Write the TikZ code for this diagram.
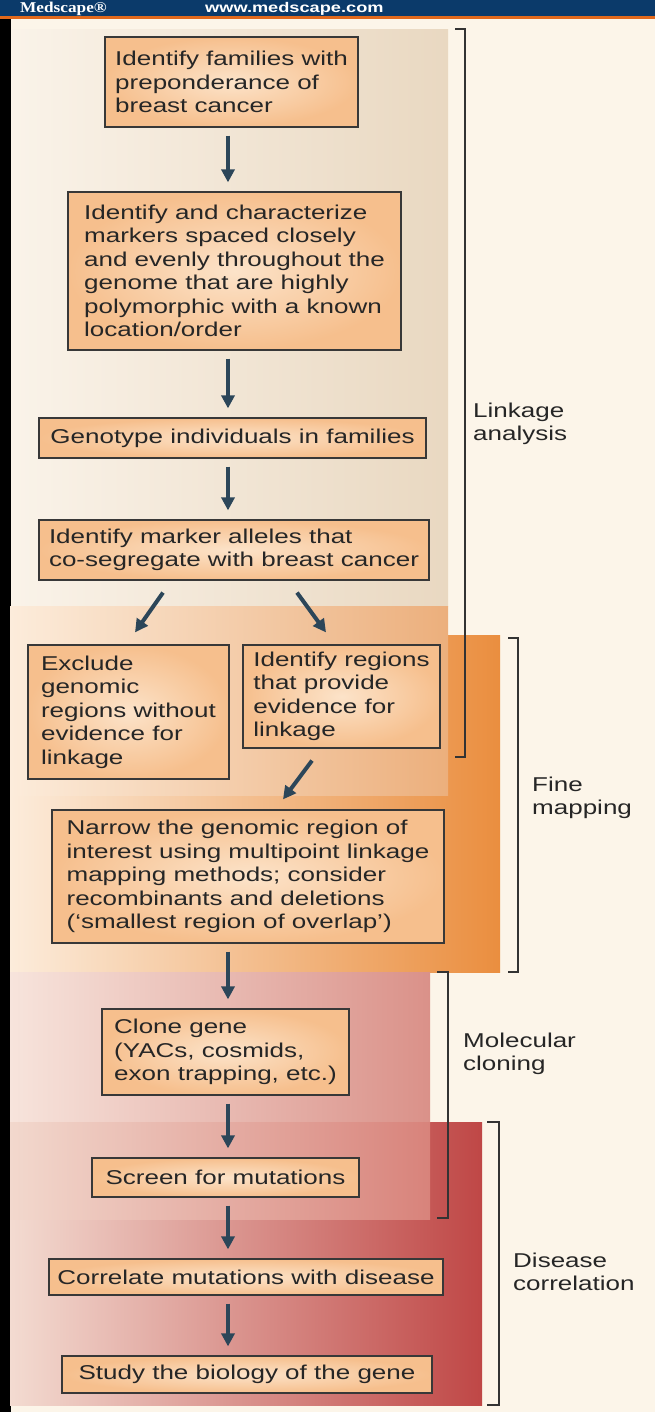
\documentclass[tikz,border=0pt]{standalone}
\usepackage{fontspec}
\setmainfont[FakeStretch=1.3]{Liberation Sans}
\newfontfamily\logofont[FakeStretch=1.15]{Liberation Serif}
\usetikzlibrary{arrows.meta,positioning,calc}
\definecolor{navy}{HTML}{0B3A6A}
\definecolor{hdline}{HTML}{E2691C}
\definecolor{paper}{HTML}{FCF5E9}
\definecolor{boxin}{HTML}{FCE3C9}
\definecolor{boxout}{HTML}{F6BF8D}
\definecolor{arrowc}{HTML}{2C4659}
\definecolor{lnkL}{HTML}{FAF3E9}
\definecolor{lnkR}{HTML}{E9D8C1}
\definecolor{finL}{HTML}{FCECDB}
\definecolor{finM}{HTML}{ECAF7C}
\definecolor{finR}{HTML}{EA8E3F}
\definecolor{molL}{HTML}{F7E4DC}
\definecolor{molR}{HTML}{DA9189}
\definecolor{ovlL}{HTML}{F2D8CD}
\definecolor{ovlR}{HTML}{D8837B}
\definecolor{disL}{HTML}{F3DBD1}
\definecolor{disR}{HTML}{BF4746}
\tikzset{box/.style={draw=black!78,line width=1.2pt,inner color=boxin,outer color=boxout,align=left,inner sep=2pt,font=\fontsize{20}{23.5}\selectfont,text=black!85},arrow/.style={-{Triangle[length=13pt,width=13pt]},line width=4pt,draw=arrowc,shorten <=8pt,shorten >=9pt},brk/.style={draw=black!80,line width=1.4pt},lab/.style={anchor=west,align=left,inner sep=0pt,font=\fontsize{20}{23.5}\selectfont,text=black!85}}

\begin{document}
\begin{tikzpicture}[x=1pt,y=-1pt]
\useasboundingbox (0,0) rectangle (655,1412);
\fill[paper] (0,0) rectangle (655,1412);
% header
\fill[navy] (0,0) rectangle (655,16);
\fill[hdline] (0,16) rectangle (655,19);
\fill[black] (0,19) rectangle (11,1412);
\begin{scope}
\clip (0,0) rectangle (655,16);
\node[anchor=base west,inner sep=0pt,text=white,font=\logofont\bfseries\fontsize{15}{15}\selectfont] (logo) at (20,13) {Medscape\textregistered};
\node[anchor=base west,inner sep=0pt,text=white,font=\bfseries\fontsize{14}{14}\selectfont] (url) at (205,13) {www.medscape.com};
\end{scope}
% panels
\fill[left color=lnkL,right color=lnkR] (12,30) rectangle (448,606);
\fill[left color=finL,right color=finR] (10,635) rectangle (500,972);
\fill[left color=finL,right color=finM] (10,606) rectangle (448,795);
\fill[left color=disL,right color=disR] (10,1122) rectangle (482,1405);
\fill[left color=molL,right color=molR] (10,972) rectangle (430,1122);
\fill[left color=ovlL,right color=ovlR] (10,1122) rectangle (430,1219);
% steps
\node[box,minimum width=253pt,minimum height=90pt] (fam) at (231.5,82) {Identify families with\\preponderance of\\breast cancer};
\node[box,minimum width=333pt,minimum height=158pt] (mark) at (234.5,271) {Identify and characterize\\markers spaced closely\\and evenly throughout the\\genome that are highly\\polymorphic with a known\\location/order};
\node[box,minimum width=387pt,minimum height=40pt] (geno) at (232.5,438) {Genotype individuals in families};
\node[box,minimum width=390pt,minimum height=60pt] (alle) at (234,550) {Identify marker alleles that\\co-segregate with breast cancer};
\node[box,minimum width=201pt,minimum height=134pt] (excl) at (128.5,712) {Exclude\\genomic\\regions without\\evidence for\\linkage};
\node[box,minimum width=197pt,minimum height=103pt] (regi) at (341.5,696.5) {Identify regions\\that provide\\evidence for\\linkage};
\node[box,minimum width=392pt,minimum height=133pt] (narr) at (248,876.5) {Narrow the genomic region of\\interest using multipoint linkage\\mapping methods; consider\\recombinants and deletions\\(`smallest region of overlap')};
\node[box,minimum width=247pt,minimum height=86pt] (clon) at (225.5,1052) {Clone gene\\(YACs, cosmids,\\exon trapping, etc.)};
\node[box,minimum width=267pt,minimum height=39pt] (scre) at (225.5,1177.5) {Screen for mutations};
\node[box,minimum width=394pt,minimum height=36pt] (corr) at (246,1277) {Correlate mutations with disease};
\node[box,minimum width=370pt,minimum height=37pt] (stud) at (247,1374.5) {Study the biology of the gene};
% arrows
\coordinate (spine) at (228,0);
\foreach \a/\b in {fam/mark,mark/geno,geno/alle,narr/clon,clon/scre,scre/corr,corr/stud}{\draw[arrow] (\a.south -| spine) -- (\b.north -| spine);}
\draw[arrow,shorten <=0pt,shorten >=0pt] ([xshift=-71pt,yshift=-12pt]alle.south) -- ([xshift=6.5pt,yshift=12pt]excl.north);
\draw[arrow,shorten <=0pt,shorten >=0pt] ([xshift=63pt,yshift=-12pt]alle.south) -- ([xshift=-15.5pt,yshift=12pt]regi.north);
\draw[arrow,shorten <=0pt,shorten >=0pt] ([xshift=-29.5pt,yshift=-12pt]regi.south) -- ([xshift=35pt,yshift=10pt]narr.north);
% brackets
\draw[brk] (455,29) -- (465,29) -- (465,757) -- (455,757);
\draw[brk] (508,638) -- (518,638) -- (518,972) -- (508,972);
\draw[brk] (437,972) -- (448,972) -- (448,1218) -- (437,1218);
\draw[brk] (487,1122) -- (499,1122) -- (499,1405) -- (487,1405);
\node[lab] (lnk) at (473,424) {Linkage\\analysis};
\node[lab] (fin) at (532,798) {Fine\\mapping};
\node[lab] (mol) at (463,1054) {Molecular\\cloning};
\node[lab] (dis) at (513,1272) {Disease\\correlation};
\end{tikzpicture}
\end{document}
